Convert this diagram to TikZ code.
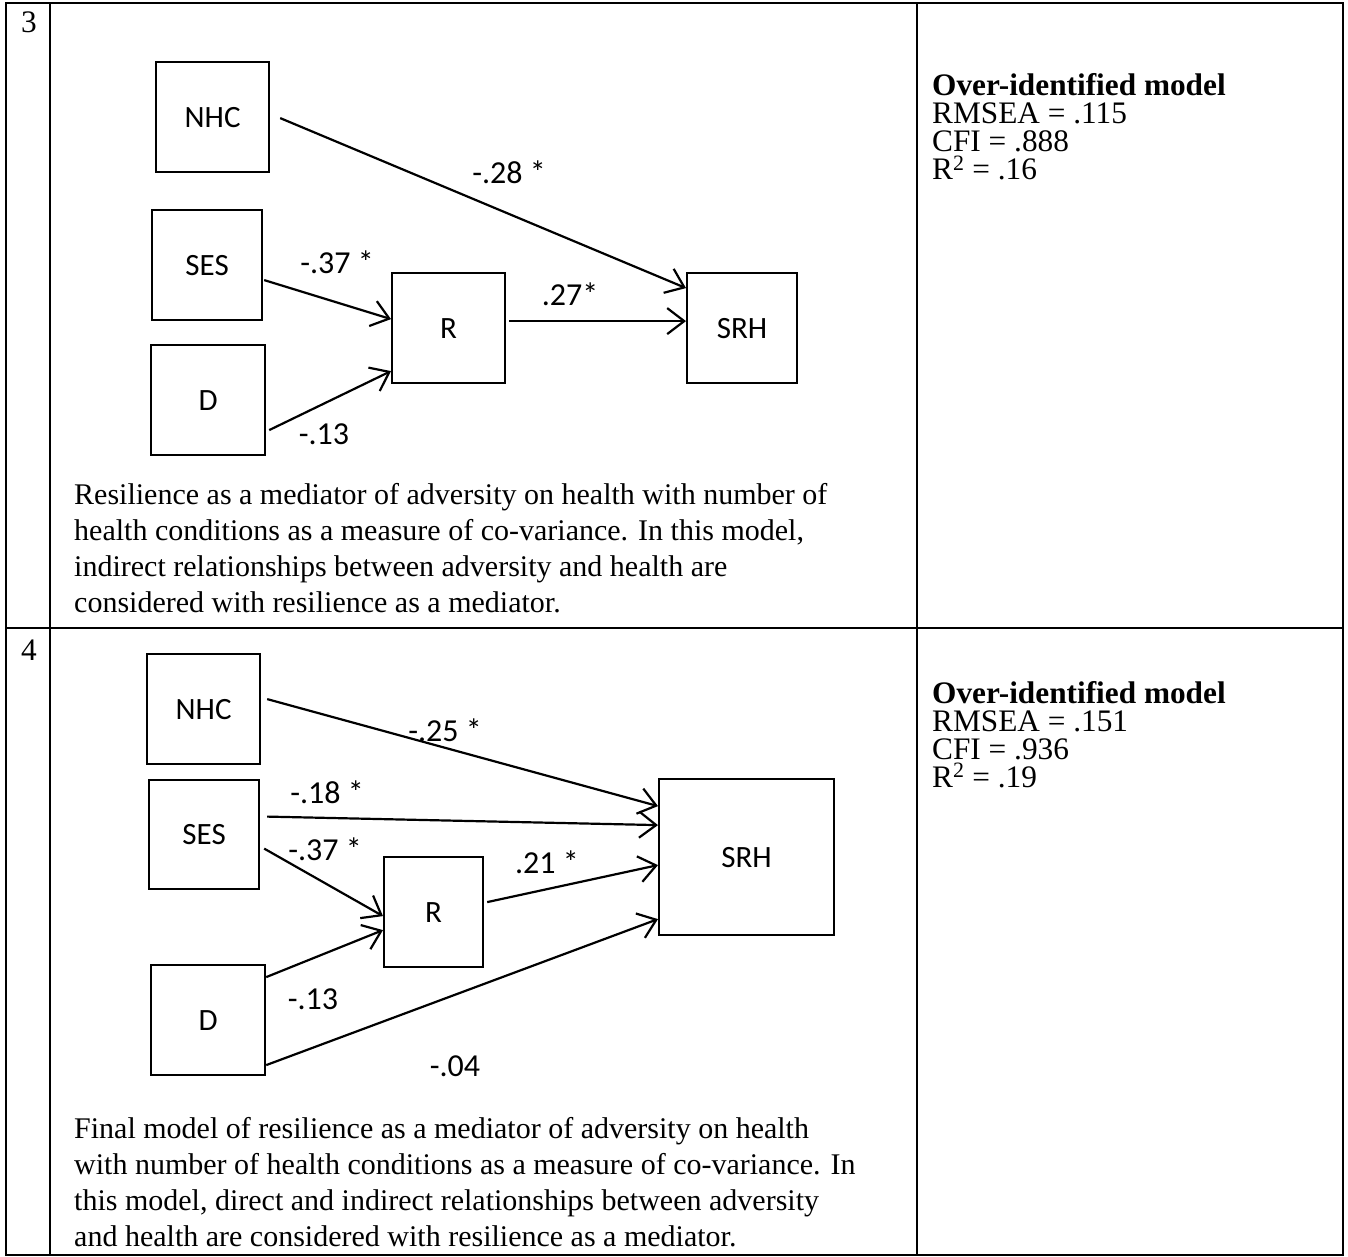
\documentclass[tikz,border=0pt]{standalone}
\usepackage{fontspec}
\setmainfont{Liberation Serif}
\newfontfamily\calibri{Carlito}
\usetikzlibrary{arrows.meta}

\begin{document}
\begin{tikzpicture}[x=1pt,y=-1pt,
  tablerule/.style={line width=2.6pt},
  var/.style={draw,line width=2.2pt,anchor=north west,inner sep=0pt,
    font=\calibri\fontsize{31}{36}\selectfont},
  causal/.style={line width=2.2pt,-{Straight Barb[length=17pt,width=26pt]}},
  coef/.style={font=\calibri\fontsize{32}{36}\selectfont,inner sep=0pt},
  rownum/.style={font=\fontsize{31.3}{36}\selectfont,anchor=base west,inner sep=0pt},
  fitstats/.style={font=\fontsize{31.3}{28}\selectfont,anchor=base west,inner sep=0pt,align=left},
  captext/.style={font=\fontsize{30}{36}\selectfont,anchor=base west,inner sep=0pt,align=left}]
\useasboundingbox (0,0) rectangle (1348,1257);

% table rules
\draw[tablerule] (6,3) rectangle (1343,1255);
\draw[tablerule] (50,3) -- (50,1255);
\draw[tablerule] (917,3) -- (917,1255);
\draw[tablerule] (6,628) -- (1343,628);

% row numbers
\node[rownum] (n3) at (21,33) {3};
\node[rownum] (n4) at (21,660) {4};

% ---------- model 3 ----------
\node[var,minimum width=113pt,minimum height=110pt] (NHC3) at (155,61) {NHC};
\node[var,minimum width=110pt,minimum height=110pt] (SES3) at (151,209) {SES};
\node[var,minimum width=114pt,minimum height=110pt] (D3) at (150,344) {D};
\node[var,minimum width=113pt,minimum height=110pt] (R3) at (391,272) {R};
\node[var,minimum width=110pt,minimum height=110pt] (SRH3) at (686,272) {SRH};

\draw[causal] ([shift={(10,1)}]NHC3.east) -- ([shift={(0,-40)}]SRH3.west);
\draw[causal] ([shift={(1,15)}]SES3.east) -- ([shift={(0,-9)}]R3.west);
\draw[causal] ([shift={(3,30)}]D3.east) -- ([shift={(0,43)}]R3.west);
\draw[causal] ([shift={(3,-7)}]R3.east) -- ([shift={(0,-7)}]SRH3.west);

\node[coef] (c3a) at (509,172) {-.28 *};
\node[coef] (c3b) at (337,262) {-.37 *};
\node[coef] (c3c) at (570,294) {.27*};
\node[coef] (c3d) at (324,434) {-.13};

% caption of model 3 (anchored at the baseline of its last line)
\node[captext] (cap3) at (74,612) {Resilience as a mediator of adversity on health with number of\\
health conditions as a measure of co-variance. In this model,\\
indirect relationships between adversity and health are\\
considered with resilience as a mediator.};

\node[fitstats] (fit3) at (932,180) {\textbf{Over-identified model}\\
RMSEA = .115\\
CFI = .888\\
R\textsuperscript{2} = .16};

% ---------- model 4 ----------
\node[var,minimum width=113pt,minimum height=110pt] (NHC4) at (146,653) {NHC};
\node[var,minimum width=110pt,minimum height=109pt] (SES4) at (148,779) {SES};
\node[var,minimum width=114pt,minimum height=110pt] (D4) at (150,964) {D};
\node[var,minimum width=99pt,minimum height=110pt] (R4) at (383,856) {R};
\node[var,minimum width=175pt,minimum height=156pt] (SRH4) at (658,778) {SRH};

\draw[causal] ([shift={(6,-10)}]NHC4.east) -- ([shift={(0,-51)}]SRH4.west);
\draw[causal] ([shift={(7,-18)}]SES4.east) -- ([shift={(0,-32)}]SRH4.west);
\draw[causal] ([shift={(4,14)}]SES4.east) -- ([shift={(0,4)}]R4.west);
\draw[causal] ([shift={(3,-10)}]R4.east) -- ([shift={(0,8)}]SRH4.west);
\draw[causal] ([shift={(0,-43)}]D4.east) -- ([shift={(0,18)}]R4.west);
\draw[causal] ([shift={(0,45)}]D4.east) -- ([shift={(0,62)}]SRH4.west);

\node[coef] (c4a) at (445,730) {-.25 *};
\node[coef] (c4b) at (327,792) {-.18 *};
\node[coef] (c4c) at (325,849) {-.37 *};
\node[coef] (c4d) at (547,862) {.21 *};
\node[coef] (c4e) at (313,999) {-.13};
\node[coef] (c4f) at (455,1066) {-.04};

% caption of model 4
\node[captext] (cap4) at (74,1246) {Final model of resilience as a mediator of adversity on health\\
with number of health conditions as a measure of co-variance. In\\
this model, direct and indirect relationships between adversity\\
and health are considered with resilience as a mediator.};

\node[fitstats] (fit4) at (932,787) {\textbf{Over-identified model}\\
RMSEA = .151\\
CFI = .936\\
R\textsuperscript{2} = .19};
\end{tikzpicture}
\end{document}
